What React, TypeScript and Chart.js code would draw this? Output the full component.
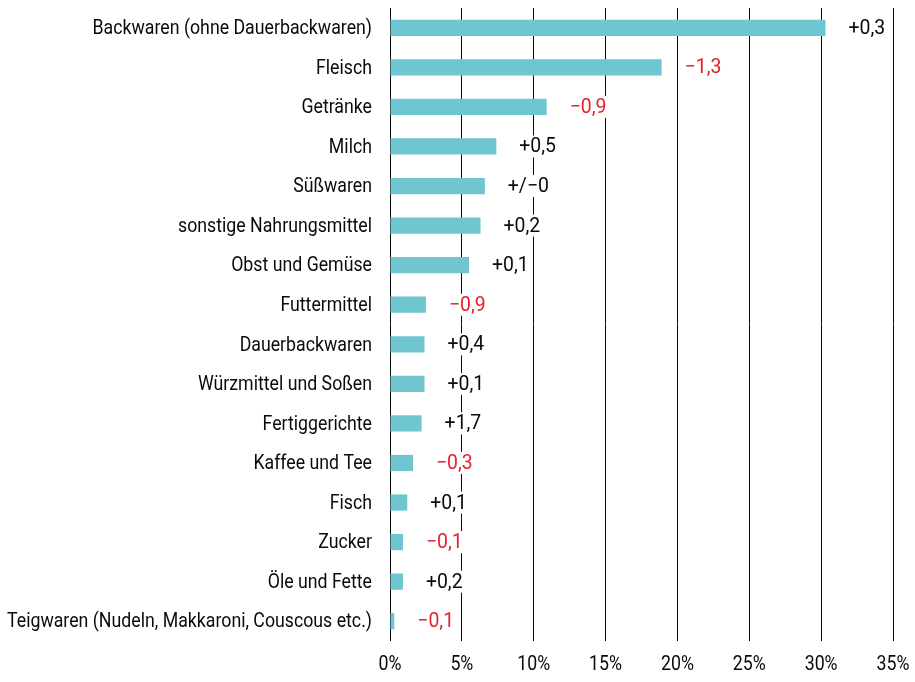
import React, { useEffect, useRef } from "react";
import { Chart, registerables } from "chart.js";

Chart.register(...registerables);

const categories = [
  "Backwaren (ohne Dauerbackwaren)",
  "Fleisch",
  "Getränke",
  "Milch",
  "Süßwaren",
  "sonstige Nahrungsmittel",
  "Obst und Gemüse",
  "Futtermittel",
  "Dauerbackwaren",
  "Würzmittel und Soßen",
  "Fertiggerichte",
  "Kaffee und Tee",
  "Fisch",
  "Zucker",
  "Öle und Fette",
  "Teigwaren (Nudeln, Makkaroni, Couscous etc.)",
];

const shares = [30.3, 18.9, 10.9, 7.4, 6.6, 6.3, 5.5, 2.5, 2.4, 2.4, 2.2, 1.6, 1.2, 0.9, 0.9, 0.3];

const changes = ["+0,3", "\u22121,3", "\u22120,9", "+0,5", "+/\u22120", "+0,2", "+0,1", "\u22120,9", "+0,4", "+0,1", "+1,7", "\u22120,3", "+0,1", "\u22120,1", "+0,2", "\u22120,1"];

const xTickValues = [0, 5, 10, 15, 20, 25, 30, 35];
const xTickLabels = ["0%", "5%", "10%", "15%", "20%", "25%", "30%", "35%"];

const FONT = "Roboto, 'Liberation Sans', sans-serif";
const LABEL_SIZE = 21;
const VALUE_SIZE = 20;
const BAR = "#6fc6d0";
const RED = "#e6202c";
const INK = "#0a0a0a";
const LONGEST_LABEL_WIDTH = 365;

function condensedText(ctx: any, txt: string, x: number, y: number, sx: number, align: string, color: string) {
  ctx.save();
  ctx.translate(x, y);
  ctx.scale(sx, 1);
  ctx.textAlign = align;
  ctx.fillStyle = color;
  ctx.fillText(txt, 0, 0);
  ctx.restore();
}

const textPlugin = {
  id: "textPlugin",
  afterDatasetsDraw(chart: any) {
    const ctx = chart.ctx;
    const meta = chart.getDatasetMeta(0);
    const yScale = chart.scales.y;
    const xScale = chart.scales.x;
    ctx.save();
    ctx.textBaseline = "middle";
    ctx.font = `${LABEL_SIZE}px ${FONT}`;
    const longest = categories[categories.length - 1];
    const sx = LONGEST_LABEL_WIDTH / ctx.measureText(longest).width;

    // category labels
    categories.forEach((c, i) => {
      const y = yScale.getPixelForValue(i);
      condensedText(ctx, c, chart.chartArea.left - 18, y + 1, sx, "right", INK);
    });

    // x tick labels
    xTickValues.forEach((v, i) => {
      const x = xScale.getPixelForValue(v);
      condensedText(ctx, xTickLabels[i], x, chart.chartArea.bottom + 24, sx, "center", INK);
    });

    // value labels with white backing that interrupts grid lines
    ctx.font = `${VALUE_SIZE}px ${FONT}`;
    const sxv = sx * 1.15;
    meta.data.forEach((bar: any, i: number) => {
      const txt = changes[i];
      const x = bar.x + 23;
      const y = bar.y;
      const w = ctx.measureText(txt).width * sxv;
      ctx.fillStyle = "#ffffff";
      ctx.fillRect(x - 3, y - 11, w + 6, 22);
      condensedText(ctx, txt, x, y + 1, sxv, "left", txt.startsWith("\u2212") ? RED : INK);
    });
    ctx.restore();
  },
};

export default function App() {
  const ref = useRef<HTMLCanvasElement>(null);
  useEffect(() => {
    if (!ref.current) return;
    const chart = new Chart(ref.current, {
      type: "bar",
      data: {
        labels: categories,
        datasets: [
          {
            data: shares,
            backgroundColor: BAR,
            borderWidth: 0,
            categoryPercentage: 0.41,
            barPercentage: 1,
          },
        ],
      },
      options: {
        indexAxis: "y",
        animation: false,
        responsive: true,
        maintainAspectRatio: false,
        layout: { padding: { top: 8, right: 22, left: 0, bottom: 0 } },
        plugins: { legend: { display: false }, tooltip: { enabled: false } },
        scales: {
          x: {
            min: 0,
            max: 35,
            afterFit: (s: any) => {
              s.height = 41;
            },
            grid: { color: INK, lineWidth: 1, drawTicks: false },
            border: { display: false },
            ticks: { stepSize: 5, display: false },
          },
          y: {
            afterFit: (s: any) => {
              s.width = 390;
            },
            grid: { display: false, drawTicks: false },
            border: { display: false },
            ticks: { display: false },
          },
        },
      },
      plugins: [textPlugin],
    });
    return () => chart.destroy();
  }, []);
  return (
    <div style={{ position: "absolute", left: 0, top: 0, width: 915, height: 682, background: "#fff" }}>
      <canvas ref={ref} />
    </div>
  );
}
